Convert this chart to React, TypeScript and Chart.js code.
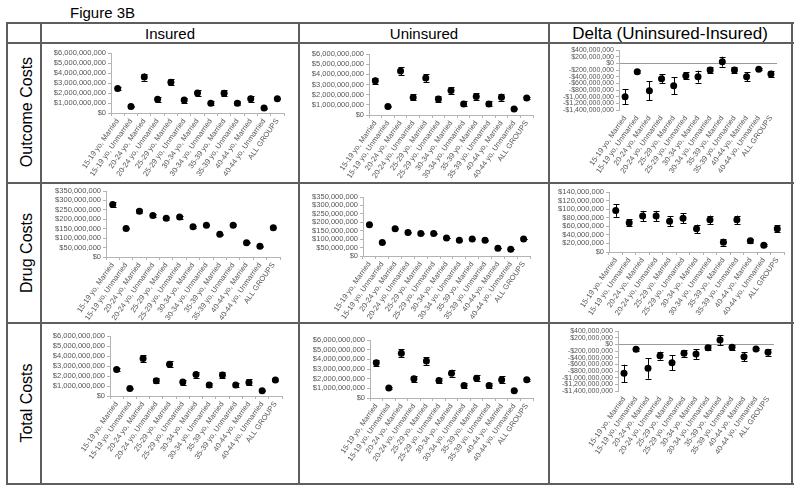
import React, { useEffect, useRef } from 'react';
import { Chart, registerables } from 'chart.js';
Chart.register(...registerables);

// ---------- data ----------
const categories = [
  '15-19 yo, Married', '15-19 yo, Unmarried', '20-24 yo, Married', '20-24 yo, Unmarried',
  '25-29 yo, Married', '25-29 yo, Unmarried', '30-34 yo, Married', '30-34 yo, Unmarried',
  '35-39 yo, Married', '35-39 yo, Unmarried', '40-44 yo, Married', '40-44 yo, Unmarried',
  'ALL GROUPS',
];
const columnTitles = ['Insured', 'Uninsured', 'Delta (Uninsured-Insured)'];
const rowTitles = ['Outcome Costs', 'Drug Costs', 'Total Costs'];
const figureTitle = 'Figure 3B';

const outcomeInsured = [2.45e9, 0.66e9, 3.6e9, 1.38e9, 3.07e9, 1.3e9, 2.0e9, 0.98e9, 1.98e9, 0.98e9, 1.42e9, 0.5e9, 1.42e9];
const outcomeInsuredErr = [0.18e9, 0.06e9, 0.35e9, 0.25e9, 0.3e9, 0.25e9, 0.3e9, 0.2e9, 0.3e9, 0.2e9, 0.3e9, 0.05e9, 0.06e9];
const outcomeUninsured = [3.38e9, 0.84e9, 4.32e9, 1.73e9, 3.63e9, 1.58e9, 2.41e9, 1.09e9, 1.82e9, 1.09e9, 1.75e9, 0.6e9, 1.68e9];
const outcomeUninsuredErr = [0.3e9, 0.07e9, 0.4e9, 0.3e9, 0.4e9, 0.3e9, 0.35e9, 0.25e9, 0.3e9, 0.25e9, 0.35e9, 0.05e9, 0.07e9];
const outcomeDelta = [-1.0e9, -0.25e9, -0.82e9, -0.46e9, -0.67e9, -0.37e9, -0.4e9, -0.2e9, 0.05e9, -0.2e9, -0.4e9, -0.18e9, -0.32e9];
const outcomeDeltaErr = [0.22e9, 0.04e9, 0.29e9, 0.13e9, 0.25e9, 0.1e9, 0.18e9, 0.08e9, 0.15e9, 0.08e9, 0.14e9, 0.03e9, 0.1e9];

const drugInsured = [278e6, 151e6, 243e6, 220e6, 205e6, 212e6, 160e6, 169e6, 121e6, 169e6, 75e6, 57e6, 155e6];
const drugInsuredErr = [12e6, 4e6, 10e6, 8e6, 8e6, 8e6, 4e6, 4e6, 3e6, 4e6, 3e6, 2e6, 2e6];
const drugUninsured = [185e6, 80e6, 161e6, 139e6, 133e6, 133e6, 107e6, 93e6, 101e6, 93e6, 46e6, 40e6, 101e6];
const drugUninsuredErr = [4e6, 2e6, 3e6, 3e6, 3e6, 3e6, 2e6, 2e6, 2e6, 2e6, 1e6, 1e6, 1e6];
const drugDelta = [97e6, 68e6, 84e6, 84e6, 72e6, 79e6, 54e6, 75e6, 23e6, 75e6, 26e6, 16e6, 54e6];
const drugDeltaErr = [15e6, 8e6, 12e6, 12e6, 12e6, 12e6, 10e6, 10e6, 8e6, 10e6, 4e6, 3e6, 8e6];

const totalInsured = [2.65e9, 0.76e9, 3.74e9, 1.52e9, 3.18e9, 1.39e9, 2.15e9, 1.09e9, 2.09e9, 1.09e9, 1.36e9, 0.53e9, 1.59e9];
const totalInsuredErr = [0.18e9, 0.05e9, 0.35e9, 0.25e9, 0.3e9, 0.25e9, 0.3e9, 0.2e9, 0.3e9, 0.2e9, 0.3e9, 0.05e9, 0.06e9];
const totalUninsured = [3.64e9, 1.03e9, 4.62e9, 1.99e9, 3.84e9, 1.82e9, 2.57e9, 1.3e9, 2.05e9, 1.3e9, 1.88e9, 0.75e9, 1.88e9];
const totalUninsuredErr = [0.3e9, 0.07e9, 0.4e9, 0.3e9, 0.4e9, 0.3e9, 0.35e9, 0.25e9, 0.3e9, 0.25e9, 0.35e9, 0.05e9, 0.07e9];
const totalDelta = [-0.87e9, -0.15e9, -0.72e9, -0.34e9, -0.55e9, -0.27e9, -0.29e9, -0.1e9, 0.13e9, -0.09e9, -0.37e9, -0.14e9, -0.24e9];
const totalDeltaErr = [0.26e9, 0.04e9, 0.31e9, 0.12e9, 0.23e9, 0.1e9, 0.15e9, 0.08e9, 0.15e9, 0.08e9, 0.13e9, 0.03e9, 0.1e9];

// axis ranges [min, max, step]
const bigRange = [0, 6e9, 1e9];
const drugRange = [0, 350e6, 50e6];
const drugDeltaRange = [0, 140e6, 20e6];
const deltaRange = [-1.4e9, 4e8, 2e8];

// ---------- layout ----------
const FONT = 'Arial, "Liberation Sans", sans-serif';
const cols = [{ l: 42, r: 298 }, { l: 300, r: 548 }, { l: 550, r: 791 }];
const rows = [{ t: 44, b: 182 }, { t: 184, b: 322 }, { t: 324, b: 483 }];

type Spec = {
  row: number; col: number; values: number[]; errors: number[]; range: number[]; delta: boolean;
  plot: { l: number; t: number; r: number; b: number };
};

const specs: Spec[] = [
  { row: 0, col: 0, values: outcomeInsured, errors: outcomeInsuredErr, range: bigRange, delta: false, plot: { l: 111, t: 53, r: 284, b: 113 } },
  { row: 0, col: 1, values: outcomeUninsured, errors: outcomeUninsuredErr, range: bigRange, delta: false, plot: { l: 369, t: 54, r: 533, b: 115 } },
  { row: 0, col: 2, values: outcomeDelta, errors: outcomeDeltaErr, range: deltaRange, delta: true, plot: { l: 619, t: 50, r: 777, b: 110 } },
  { row: 1, col: 0, values: drugInsured, errors: drugInsuredErr, range: drugRange, delta: false, plot: { l: 106, t: 191, r: 280, b: 257 } },
  { row: 1, col: 1, values: drugUninsured, errors: drugUninsuredErr, range: drugRange, delta: false, plot: { l: 363, t: 197, r: 530, b: 256 } },
  { row: 1, col: 2, values: drugDelta, errors: drugDeltaErr, range: drugDeltaRange, delta: false, plot: { l: 609, t: 192, r: 784, b: 252 } },
  { row: 2, col: 0, values: totalInsured, errors: totalInsuredErr, range: bigRange, delta: false, plot: { l: 110, t: 336, r: 282, b: 396 } },
  { row: 2, col: 1, values: totalUninsured, errors: totalUninsuredErr, range: bigRange, delta: false, plot: { l: 370, t: 340, r: 533, b: 398 } },
  { row: 2, col: 2, values: totalDelta, errors: totalDeltaErr, range: deltaRange, delta: true, plot: { l: 618, t: 331, r: 774, b: 391 } },
];

const money = (v: number) => (v < 0 ? '-' : '') + '$' + Math.abs(Math.round(v)).toLocaleString('en-US');

const errorBarPlugin = {
  id: 'errorBars',
  afterDatasetsDraw(chart: any) {
    const ds: any = chart.data.datasets[0];
    const meta = chart.getDatasetMeta(0);
    const y = chart.scales.y;
    const ctx = chart.ctx;
    ctx.save();
    ctx.strokeStyle = '#000';
    ctx.lineWidth = 1;
    meta.data.forEach((pt: any, i: number) => {
      const v = ds.data[i];
      const e = ds.errors[i];
      const x = Math.round(pt.x) + 0.5;
      const yt = y.getPixelForValue(v + e);
      const yb = y.getPixelForValue(v - e);
      ctx.beginPath();
      ctx.moveTo(x, yt); ctx.lineTo(x, yb);
      ctx.moveTo(x - 3, Math.round(yt) + 0.5); ctx.lineTo(x + 3, Math.round(yt) + 0.5);
      ctx.moveTo(x - 3, Math.round(yb) + 0.5); ctx.lineTo(x + 3, Math.round(yb) + 0.5);
      ctx.stroke();
    });
    ctx.restore();
  },
};

function CostChart({ spec }: { spec: Spec }) {
  const ref = useRef<HTMLCanvasElement | null>(null);
  const box = { l: cols[spec.col].l, r: cols[spec.col].r, t: rows[spec.row].t, b: rows[spec.row].b };
  const w = box.r - box.l;
  const h = box.b - box.t;
  useEffect(() => {
    const p = spec.plot;
    const axisColor = '#b4b4b4';
    const chart = new Chart(ref.current as HTMLCanvasElement, {
      type: 'line',
      data: {
        labels: categories,
        datasets: [{
          data: spec.values,
          errors: spec.errors,
          showLine: false,
          pointRadius: 3.5,
          pointHoverRadius: 3.5,
          pointBackgroundColor: '#000',
          pointBorderWidth: 0,
        } as any],
      },
      options: {
        responsive: false,
        animation: false,
        events: [],
        layout: { padding: { top: p.t - box.t, right: box.r - p.r, left: 0, bottom: 0 } },
        plugins: { legend: { display: false }, tooltip: { enabled: false } },
        scales: {
          x: {
            type: 'category',
            offset: true,
            grid: { display: !spec.delta, offset: true, drawOnChartArea: false, tickLength: 3, color: axisColor },
            border: { display: !spec.delta, color: axisColor },
            ticks: {
              autoSkip: false, minRotation: 55, maxRotation: 55, padding: 1,
              color: '#555', font: { size: 7.5, family: FONT },
            },
            afterFit: (s: any) => { s.height = box.b - p.b; s.paddingLeft = 0; s.paddingRight = 0; },
          },
          y: {
            min: spec.range[0], max: spec.range[1],
            ticks: {
              stepSize: spec.range[2], autoSkip: false, padding: 2,
              color: '#555', font: { size: spec.delta ? 7 : 7.5, family: FONT },
              callback: (v: any) => money(Number(v)),
            },
            grid: spec.delta
              ? {
                  drawOnChartArea: true, tickLength: 3, tickColor: axisColor,
                  color: (c: any) => (c.tick && c.tick.value === 0 ? '#9a9a9a' : 'rgba(0,0,0,0)'),
                }
              : { drawOnChartArea: false, tickLength: 3, color: axisColor },
            border: { color: axisColor },
            afterFit: (s: any) => { s.width = p.l - box.l; s.paddingTop = 0; s.paddingBottom = 0; },
          },
        },
      },
      plugins: [errorBarPlugin],
    } as any);
    return () => chart.destroy();
  }, []);
  return (
    <canvas
      ref={ref}
      width={w}
      height={h}
      style={{ position: 'absolute', left: box.l, top: box.t, width: w, height: h }}
    />
  );
}

const lineColor = '#5e5e5e';
const hLines = [23, 43, 183, 323, 484];
const vLines = [7, 41, 299, 549, 792];

export default function App() {
  const headerCenters = [170, 424, 670];
  const headerSizes = [15, 15, 17];
  const rowCenters = [112, 253, 403];
  return (
    <div style={{ position: 'absolute', left: 0, top: 0, width: 800, height: 492, background: '#fff', fontFamily: FONT }}>
      <div style={{ position: 'absolute', left: 70, top: 5, fontSize: 15, lineHeight: '15px', color: '#000', whiteSpace: 'nowrap' }}>
        {figureTitle}
      </div>
      {specs.map((s, i) => <CostChart key={i} spec={s} />)}
      {columnTitles.map((t, i) => (
        <div key={t} style={{
          position: 'absolute', left: headerCenters[i] - 130, width: 260, top: 39 - (headerSizes[i] * 0.846), textAlign: 'center',
          fontSize: headerSizes[i], lineHeight: headerSizes[i] + 'px', color: '#000', whiteSpace: 'nowrap',
        }}>{t}</div>
      ))}
      {rowTitles.map((t, i) => (
        <div key={t} style={{
          position: 'absolute', left: 27 - 70, width: 140, top: rowCenters[i] - 8, height: 16, textAlign: 'center',
          fontSize: 16, lineHeight: '16px', color: '#000', whiteSpace: 'nowrap', transform: 'rotate(-90deg)',
        }}>{t}</div>
      ))}
      {hLines.map((y) => (
        <div key={'h' + y} style={{ position: 'absolute', left: 7, top: y - 1, width: 787, height: 2, background: lineColor }} />
      ))}
      {vLines.map((x) => (
        <div key={'v' + x} style={{ position: 'absolute', left: x - 1, top: 22, width: 2, height: 463, background: lineColor }} />
      ))}
    </div>
  );
}
